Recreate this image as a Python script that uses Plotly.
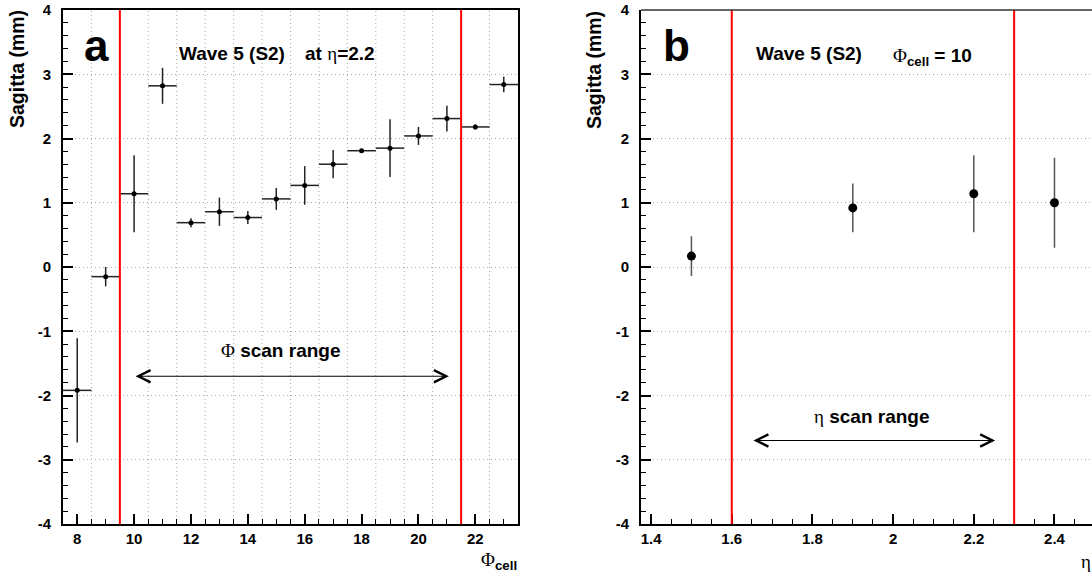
import plotly.graph_objects as go

# ---------------- data ----------------
# Panel a: sagitta vs phi cell (eta = 2.2)
phi_cells = [8, 9, 10, 11, 12, 13, 14, 15, 16, 17, 18, 19, 20, 21, 22, 23]
phi_sagitta = [-1.92, -0.15, 1.14, 2.82, 0.69, 0.86, 0.77, 1.06, 1.27, 1.60,
               1.81, 1.85, 2.04, 2.31, 2.18, 2.84]
phi_err = [0.81, 0.15, 0.60, 0.28, 0.07, 0.22, 0.10, 0.17, 0.30, 0.22,
           0.03, 0.45, 0.14, 0.20, 0.04, 0.12]
phi_binhalf = [0.5] * len(phi_cells)

# Panel b: sagitta vs eta (phi cell = 10)
eta_vals = [1.5, 1.9, 2.2, 2.4]
eta_sagitta = [0.17, 0.92, 1.14, 1.00]
eta_err = [0.31, 0.38, 0.60, 0.70]

phi_range_lines = [9.5, 21.5]
eta_range_lines = [1.6, 2.3]
phi_grid_x = [8.5 + i for i in range(15)]

y_tickvals = [-4, -3, -2, -1, 0, 1, 2, 3, 4]
y_ticktext = ["-4", "-3", "-2", "-1", "0", "1", "2", "3", "4"]

W, H = 1092, 577
def px(x):
    return x / W
def py(y):
    return 1 - y / H

FONT = "Liberation Sans, Arial, sans-serif"
GRID = "#a8a8a8"
DOT = "1px,3px"

fig = go.Figure()

err_color = "#222"
fig.add_trace(go.Scatter(
    x=phi_cells, y=phi_sagitta, mode="markers",
    marker=dict(symbol="circle", size=5, color="black"),
    error_y=dict(type="data", array=phi_err, width=0, thickness=1.5, color=err_color),
    error_x=dict(type="data", array=phi_binhalf, width=0, thickness=1.5, color=err_color),
    xaxis="x", yaxis="y", showlegend=False,
))
fig.add_trace(go.Scatter(
    x=eta_vals, y=eta_sagitta, mode="markers",
    marker=dict(symbol="circle", size=9, color="black"),
    error_y=dict(type="data", array=eta_err, width=0, thickness=1.5, color="#555"),
    xaxis="x2", yaxis="y2", showlegend=False,
))

ydom = [53 / H, 567 / H]
tickfont = dict(family=FONT, size=15, color="black", weight=700)

common_y = dict(
    range=[-4, 4], tickmode="array", tickvals=y_tickvals, ticktext=y_ticktext,
    ticks="inside", ticklen=10, tickwidth=1.5, tickcolor="black",
    minor=dict(ticks="inside", ticklen=5, tickwidth=1, tickcolor="black", dtick=0.2, showgrid=False),
    showgrid=True, gridcolor=GRID, griddash=DOT, gridwidth=1,
    showline=True, linecolor="black", linewidth=2,
    zeroline=False, tickfont=tickfont, ticklabelstandoff=7,
    domain=ydom, automargin=False,
)

fig.update_layout(
    width=W, height=H,
    margin=dict(l=0, r=0, t=0, b=0, autoexpand=False),
    paper_bgcolor="white", plot_bgcolor="white",
    xaxis=dict(
        domain=[63 / W, 518 / W], range=[7.5, 23.5],
        tick0=8, dtick=2, ticks="inside", ticklen=10, tickwidth=1.5, tickcolor="black",
        minor=dict(ticks="inside", ticklen=5, tickwidth=1, tickcolor="black", dtick=0.5, showgrid=False),
        showgrid=False, showline=True, linecolor="black", linewidth=2, mirror=True,
        zeroline=False, tickfont=tickfont, anchor="y", automargin=False, ticklabelstandoff=0,
    ),
    yaxis=dict(anchor="x", mirror=True, **common_y),
    xaxis2=dict(
        domain=[641 / W, 1.0], range=[1.375, 2.493],
        tick0=0, dtick=0.2, ticks="inside", ticklen=10, tickwidth=1.5, tickcolor="black",
        minor=dict(ticks="inside", ticklen=5, tickwidth=1, tickcolor="black", dtick=0.05, showgrid=False),
        showgrid=False, showline=True, linecolor="black", linewidth=2, mirror=False,
        zeroline=False, tickfont=tickfont, anchor="y2", automargin=False, ticklabelstandoff=0,
    ),
    yaxis2=dict(anchor="x2", mirror=False, **common_y),
)

shapes = []
for gx in phi_grid_x:
    shapes.append(dict(type="line", xref="x", yref="y domain", x0=gx, x1=gx, y0=0, y1=1,
                       line=dict(color=GRID, width=1, dash=DOT), layer="below"))
for rx in phi_range_lines:
    shapes.append(dict(type="line", xref="x", yref="y domain", x0=rx, x1=rx, y0=0, y1=1,
                       line=dict(color="red", width=2)))
for rx in eta_range_lines:
    shapes.append(dict(type="line", xref="x2", yref="y2 domain", x0=rx, x1=rx, y0=0, y1=1,
                       line=dict(color="red", width=2)))
# top frame of panel b
shapes.append(dict(type="line", xref="x2 domain", yref="y2 domain", x0=0, x1=1, y0=1, y1=1,
                   line=dict(color="#333", width=1.5)))
fig.update_layout(shapes=shapes)

ann = []
def text(x, y, t, size=19, xanchor="left", angle=0, yanchor="middle"):
    ann.append(dict(x=px(x), y=py(y), xref="paper", yref="paper", text=t, showarrow=False,
                    xanchor=xanchor, yanchor=yanchor, textangle=angle,
                    font=dict(family=FONT, size=size, color="black")))

serif = lambda s: "<span style='font-family:Liberation Serif;font-weight:normal'>" + s + "</span>"

text(96, 46, "<b>a</b>", size=44, xanchor="center")
text(676, 46, "<b>b</b>", size=44, xanchor="center")
text(177, 54, "<b>Wave 5 (S2)</b>")
text(303, 54, "<b>at </b>" + serif("η") + "<b>=2.2</b>")
text(754, 54, "<b>Wave 5 (S2)</b>")
text(891, 57, serif("Φ") + "<b><sub>cell</sub> = 10</b>")
text(281, 350, serif("Φ") + "<b> scan range</b>", xanchor="center")
text(872, 416, serif("η") + "<b> scan range</b>", xanchor="center")
text(17, 69, "<b>Sagitta (mm)</b>", size=19.5, xanchor="center", angle=-90)
text(594, 70, "<b>Sagitta (mm)</b>", size=19.5, xanchor="center", angle=-90)
text(519, 561, serif("Φ") + "<b><sub>cell</sub></b>", size=19, xanchor="right")
text(1093, 561, serif("η"), size=19, xanchor="right")

# double-headed arrows
ann.append(dict(x=21.07, y=-1.70, ax=10.0, ay=-1.70, xref="x", yref="y", axref="x", ayref="y",
                text="", showarrow=True, arrowside="end+start", arrowhead=5, startarrowhead=5,
                arrowsize=2.2, startarrowsize=2.2, arrowwidth=1.1, arrowcolor="black"))
ann.append(dict(x=2.253, y=-2.70, ax=1.65, ay=-2.70, xref="x2", yref="y2", axref="x2", ayref="y2",
                text="", showarrow=True, arrowside="end+start", arrowhead=5, startarrowhead=5,
                arrowsize=2.2, startarrowsize=2.2, arrowwidth=1.1, arrowcolor="black"))
fig.update_layout(annotations=ann)

fig.write_html("out.html", config={"displayModeBar": False},
               post_script="document.body.style.margin='0px';")
